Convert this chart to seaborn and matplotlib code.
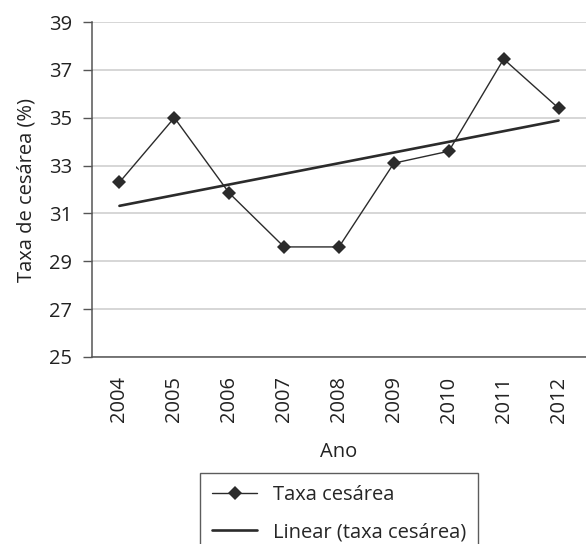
import numpy as np
import pandas as pd
import matplotlib
matplotlib.use("Agg")
import matplotlib.pyplot as plt
import seaborn as sns

# data
years = ["2004", "2005", "2006", "2007", "2008", "2009", "2010", "2011", "2012"]
taxa = [32.3, 35.0, 31.85, 29.6, 29.6, 33.1, 33.6, 37.45, 35.4]
y_ticks = [25, 27, 29, 31, 33, 35, 37, 39]

sns.set_theme(style="white")
plt.rcParams["font.family"] = ["Open Sans", "DejaVu Sans"]

df = pd.DataFrame({"pos": np.arange(len(years)), "Ano": years, "taxa": taxa})
# linear trend like Excel's "Linear" trendline
coef = np.polyfit(df["pos"], df["taxa"], 1)
df["linear"] = np.polyval(coef, df["pos"])

fig = plt.figure(figsize=(5.86, 5.44), dpi=100)
ax = fig.add_axes([92 / 586, 1 - 357 / 544, 1 - 92 / 586, 335 / 544])

dark = "#2b2b2b"
fs = 14.5
sns.lineplot(data=df, x="pos", y="taxa", ax=ax, color=dark, linewidth=1.0,
             marker="D", markersize=7, markeredgewidth=0, label="Taxa cesárea",
             zorder=3)
sns.lineplot(data=df, x="pos", y="linear", ax=ax, color=dark, linewidth=1.9,
             label="Linear (taxa cesárea)", zorder=2)

ax.set_xlim(-0.5, len(years) - 0.5)
ax.set_ylim(25, 39)
ax.set_yticks(y_ticks)
ax.yaxis.grid(True, color="#cccccc", linewidth=1.1)
ax.set_axisbelow(True)

ax.set_xticks(df["pos"])
ax.set_xticklabels(years, rotation=90)
ax.set_xticks(np.arange(len(years) + 1) - 0.5, minor=True)
ax.tick_params(axis="x", which="major", length=0, pad=14, labelsize=fs, colors="#222222")
ax.tick_params(axis="x", which="minor", length=6, width=1, color="#555555", direction="out")
ax.tick_params(axis="y", length=6.5, width=1, color="#555555", direction="out",
               labelsize=fs, colors="#222222", pad=8, left=True)

for s in ["top", "right"]:
    ax.spines[s].set_visible(False)
for s in ["left", "bottom"]:
    ax.spines[s].set_color("#555555")
    ax.spines[s].set_linewidth(1.1)

ax.set_xlabel("Ano", fontsize=fs, color="#222222", labelpad=14)
ax.set_ylabel("Taxa de cesárea (%)", fontsize=fs, color="#222222", labelpad=9)

ax.get_legend().remove()
handles, labels = ax.get_legend_handles_labels()
leg = fig.legend(handles, labels, loc="upper center", bbox_to_anchor=(0.579, 1 - 473 / 544),
                 frameon=True, fancybox=False, fontsize=fs, handlelength=2.2,
                 borderpad=0.6, labelspacing=0.85, borderaxespad=0,
                 edgecolor="#333333")
leg.get_frame().set_linewidth(1.0)

fig.savefig("out.png", dpi=100)
